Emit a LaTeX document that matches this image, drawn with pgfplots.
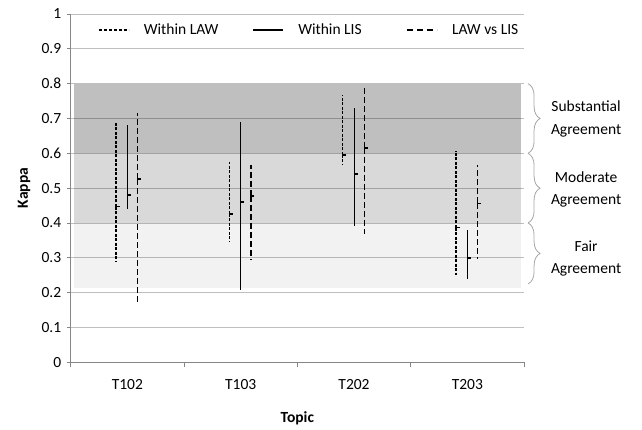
\documentclass[border=0pt]{standalone}
\usepackage{fontspec}
\setmainfont{Carlito}
\usepackage{pgfplots}
\pgfplotsset{compat=1.18}
\usepackage{pgfplotstable}
\usetikzlibrary{decorations.pathreplacing}
\definecolor{gridc}{HTML}{BFBFBF}
\definecolor{axisc}{HTML}{868686}
\definecolor{bracec}{HTML}{A6A6A6}

\pgfplotstableread{
x mean top bot
0.40 0.447 0.688 0.287
1.40 0.426 0.576 0.346
2.40 0.596 0.767 0.566
3.40 0.387 0.607 0.251
}\lawdata
\pgfplotstableread{
x mean top bot
0.50 0.480 0.681 0.441
1.50 0.460 0.690 0.208
2.50 0.540 0.729 0.390
3.50 0.300 0.380 0.240
}\lisdata
\pgfplotstableread{
x mean top bot
0.59 0.526 0.715 0.167
1.59 0.477 0.567 0.296
2.59 0.616 0.796 0.368
3.59 0.456 0.567 0.296
}\vsdata

\begin{document}
\begin{tikzpicture}[font=\fontsize{15.5}{18}\selectfont]
\useasboundingbox (-70.7pt,-67.7pt) rectangle (571.3pt,362.3pt);
\begin{axis}[
  at={(0pt,0pt)}, anchor=south west,
  scale only axis, width=453.3pt, height=348.3pt,
  xmin=0, xmax=4, ymin=0, ymax=1,
  clip=false,
  axis x line*=bottom, axis y line*=left,
  axis line style={axisc, line width=0.8pt},
  tick align=outside,
  xtick={0.5,1.5,2.5,3.5},
  xticklabels={T102,T103,T202,T203},
  xtick style={draw=none},
  extra x ticks={0,1,2,3,4},
  extra x tick labels={},
  extra x tick style={xtick style={draw=axisc, line width=0.8pt}, major tick length=5pt, grid=none},
  ytick={0,0.1,0.2,0.3,0.4,0.5,0.6,0.7,0.8,0.9,1},
  yticklabels={0,0.1,0.2,0.3,0.4,0.5,0.6,0.7,0.8,0.9,1},
  ytick style={draw=axisc, line width=0.8pt},
  major tick length=4pt,
  ymajorgrids,
  grid style={gridc, line width=0.8pt},
  xticklabel style={yshift=-10pt},
  yticklabel style={xshift=-2pt},
  xlabel={\textbf{Topic}},
  ylabel={\textbf{Kappa}},
  every axis x label/.style={at={(rel axis cs:0.5,-0.16)}, anchor=center},
  every axis y label/.style={at={(rel axis cs:-0.103,0.5)}, anchor=center, rotate=90},
  legend style={at={(rel axis cs:0.06,0.954)}, anchor=west, draw=none, fill=none,
    inner sep=0pt,
    /tikz/every odd column/.append style={column sep=12pt},
    /tikz/every even column/.append style={column sep=10pt}},
  legend columns=3,
  legend cell align=left,
  legend image code/.code={\draw[#1] (0pt,0pt) -- (30pt,0pt);},
]
\addlegendimage{black, line width=1.8pt, dash pattern=on 3pt off 2pt}
\addlegendentry{\makebox[96pt][l]{Within LAW}}
\addlegendimage{black, line width=2.4pt}
\addlegendentry{\makebox[96pt][l]{Within LIS}}
\addlegendimage{black, line width=1.8pt, dash pattern=on 6pt off 4pt}
\addlegendentry{\makebox[96pt][l]{LAW vs LIS}}

% bands
\addplot[forget plot, draw=none, fill=black, fill opacity=0.25] coordinates {(0.03,0.6) (3.97,0.6) (3.97,0.8) (0.03,0.8)} -- cycle;
\addplot[forget plot, draw=none, fill=black, fill opacity=0.15] coordinates {(0.03,0.4) (3.97,0.4) (3.97,0.6) (0.03,0.6)} -- cycle;
\addplot[forget plot, draw=none, fill=black, fill opacity=0.05] coordinates {(0.03,0.214) (3.97,0.214) (3.97,0.4) (0.03,0.4)} -- cycle;

% series
\addplot[forget plot, only marks, mark=-, mark size=1.8pt,
  mark options={xshift=1.8pt, solid, black, line width=1.6pt},
  error bars/.cd, y dir=both, y explicit, error mark=none,
  error bar style={black, line width=1.1pt, dash pattern=on 3pt off 1.5pt}]
  table[x=x, y=mean, y error plus expr=\thisrow{top}-\thisrow{mean}, y error minus expr=\thisrow{mean}-\thisrow{bot}] {\lawdata};
\addplot[forget plot, only marks, mark=-, mark size=1.8pt,
  mark options={xshift=1.8pt, solid, black, line width=1.6pt},
  error bars/.cd, y dir=both, y explicit, error mark=none,
  error bar style={black, line width=1pt, solid}]
  table[x=x, y=mean, y error plus expr=\thisrow{top}-\thisrow{mean}, y error minus expr=\thisrow{mean}-\thisrow{bot}] {\lisdata};
\addplot[forget plot, only marks, mark=-, mark size=1.8pt,
  mark options={xshift=1.8pt, solid, black, line width=1.6pt},
  error bars/.cd, y dir=both, y explicit, error mark=none,
  error bar style={black, line width=1.3pt, dash pattern=on 6pt off 3pt}]
  table[x=x, y=mean, y error plus expr=\thisrow{top}-\thisrow{mean}, y error minus expr=\thisrow{mean}-\thisrow{bot}] {\vsdata};

% braces and annotations
\draw[bracec, line width=0.8pt, decorate, decoration={brace, amplitude=12pt}] (axis cs:4.036,0.8) -- (axis cs:4.036,0.6);
\draw[bracec, line width=0.8pt, decorate, decoration={brace, amplitude=12pt}] (axis cs:4.036,0.6) -- (axis cs:4.036,0.4);
\draw[bracec, line width=0.8pt, decorate, decoration={brace, amplitude=12pt}] (axis cs:4.036,0.4) -- (axis cs:4.036,0.225);
\node[align=center, anchor=center, font=\fontsize{15.5}{23}\selectfont] at (rel axis cs:1.137,0.70) {Substantial\\Agreement};
\node[align=center, anchor=center, font=\fontsize{15.5}{22}\selectfont] at (rel axis cs:1.137,0.495) {Moderate\\Agreement};
\node[align=center, anchor=center, font=\fontsize{15.5}{22}\selectfont] at (rel axis cs:1.137,0.297) {Fair\\Agreement};
\end{axis}
\end{tikzpicture}
\end{document}
